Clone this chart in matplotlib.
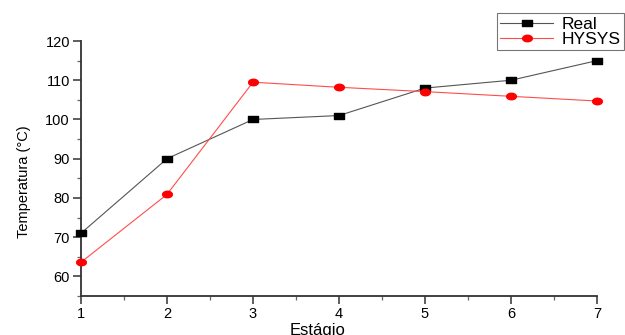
import numpy as np
import matplotlib.pyplot as plt
from matplotlib.ticker import MultipleLocator
from matplotlib.path import Path

plt.rcParams['font.family'] = ['Liberation Sans', 'DejaVu Sans']

# estágios e temperaturas
estagio = [1, 2, 3, 4, 5, 6, 7]
real = [71, 90, 100, 101, 108, 110, 115]
hysys = [63.6, 80.9, 109.5, 108.2, 107.1, 105.9, 104.7]

# marcadores achatados (imagem original esticada na horizontal)
quad = Path([(-1.5, -1), (1.5, -1), (1.5, 1), (-1.5, 1), (-1.5, -1)],
            [Path.MOVETO, Path.LINETO, Path.LINETO, Path.LINETO, Path.CLOSEPOLY])
t = np.linspace(0, 2 * np.pi, 40)
elip = Path(np.column_stack([1.5 * np.cos(t), np.sin(t)]))

fig = plt.figure(facecolor='white', figsize=(6.25, 3.35), dpi=100)
ax = fig.add_axes([0.1296, 0.1164, 0.8256, 0.7612])

ax.plot(estagio, real, color='#555555', lw=0.8, marker=quad, ms=7,
        mfc='black', mec='black', label='Real', clip_on=False, zorder=3)
ax.plot(estagio, hysys, color='#ff4d4d', lw=0.8, marker=elip, ms=7,
        mfc='red', mec='red', label='HYSYS', clip_on=False, zorder=3)

ax.set_xlim(1, 7)
ax.set_ylim(55, 120)
ax.xaxis.set_major_locator(MultipleLocator(1))
ax.xaxis.set_minor_locator(MultipleLocator(0.5))
ax.set_yticks(np.arange(60, 121, 10))
ax.yaxis.set_minor_locator(MultipleLocator(5))

for s in ['top', 'right']:
    ax.spines[s].set_visible(False)
for s in ['left', 'bottom']:
    ax.spines[s].set_color('#333333')
    ax.spines[s].set_linewidth(1.3)

ax.tick_params(which='major', direction='out', length=6, width=1.1, colors='#333333',
               labelcolor='black', labelsize=10.5, pad=2)
ax.tick_params(which='minor', direction='out', length=3, width=0.9, colors='#666666')

ax.set_xlabel('Estágio', fontsize=12)
ax.xaxis.set_label_coords(0.459, -0.104)
ax.set_ylabel('Temperatura (°C)', fontsize=10.5)
ax.yaxis.set_label_coords(-0.097, 0.45)

leg = fig.legend(loc='upper left', bbox_to_anchor=(497 / 625, 1 - 13 / 335),
                 fontsize=12.5, frameon=True, fancybox=False, edgecolor='#555555',
                 handlelength=3.0, borderpad=0.2, labelspacing=0.0, handletextpad=0.5,
                 borderaxespad=0, markerscale=1.0)
leg.get_frame().set_linewidth(0.8)

fig.savefig('out.png', dpi=100)
